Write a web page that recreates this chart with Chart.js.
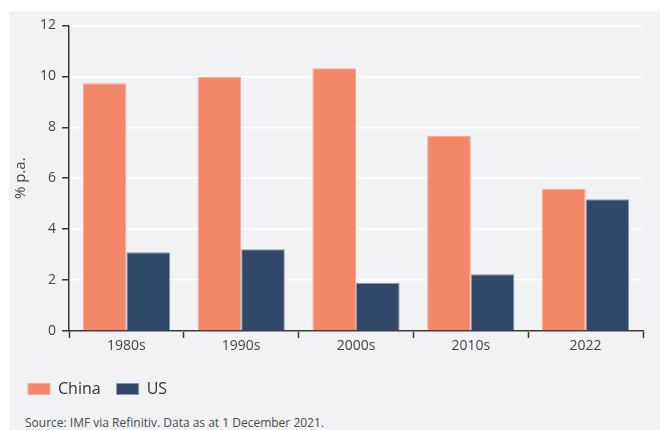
<!DOCTYPE html>
<html>
<head>
<meta charset="utf-8">
<script src="https://cdn.jsdelivr.net/npm/chart.js@4.4.1/dist/chart.umd.min.js"></script>
<style>
  html, body { margin: 0; padding: 0; background: #fff; }
  body { width: 660px; height: 430px; position: relative; overflow: hidden; font-family: "Open Sans", sans-serif; }
  #panel { position: absolute; left: 9px; top: 11px; width: 651px; height: 419px; background: #f1f2f4; }
  #chart-wrap { position: absolute; left: 0; top: 0; width: 651px; height: 396px; }
  #source { position: absolute; left: 16px; top: 403px; font-size: 12px; color: #4a4a4a; white-space: nowrap; }
</style>
</head>
<body>
<div id="panel">
  <div id="chart-wrap"><canvas id="growth-chart"></canvas></div>
  <div id="source">Source: IMF via Refinitiv. Data as at 1 December 2021.</div>
</div>
<script>
// Crescimento real do PIB, média anual por período (% a.a.)
const periods = ['1980s', '1990s', '2000s', '2010s', '2022'];
const chinaGrowth = [9.73, 9.97, 10.32, 7.66, 5.59];
const usGrowth = [3.09, 3.21, 1.88, 2.23, 5.17];
const yTicks = [0, 2, 4, 6, 8, 10, 12];

const axisColor = '#3a3a3a';
const tickFont = { family: '"Open Sans", sans-serif', size: 14 };

const growthChart = new Chart(document.getElementById('growth-chart'), {
  type: 'bar',
  data: {
    labels: periods,
    datasets: [
      {
        label: 'China',
        data: chinaGrowth,
        backgroundColor: '#f58769',
        borderColor: '#f7ab96',
        borderWidth: 1
      },
      {
        label: 'US',
        data: usGrowth,
        backgroundColor: '#30496a',
        borderColor: '#8797ad',
        borderWidth: 1
      }
    ]
  },
  options: {
    responsive: true,
    maintainAspectRatio: false,
    animation: false,
    layout: { padding: { left: 3, right: 17, top: 2, bottom: 0 } },
    datasets: {
      bar: { barPercentage: 1, categoryPercentage: 0.76 }
    },
    plugins: {
      legend: {
        position: 'bottom',
        align: 'start',
        labels: {
          boxWidth: 22,
          boxHeight: 11,
          padding: 16,
          color: '#333',
          font: { family: '"Open Sans", sans-serif', size: 16 }
        }
      },
      tooltip: { enabled: false }
    },
    scales: {
      x: {
        offset: true,
        grid: {
          display: true,
          drawOnChartArea: false,
          offset: true,
          tickLength: 7,
          tickColor: axisColor,
          tickWidth: 1.5
        },
        border: { color: axisColor, width: 1.5 },
        ticks: { color: '#444', font: tickFont, padding: 0 },
        afterFit: function(scale) { scale.height = 34; }
      },
      y: {
        min: 0,
        max: 12,
        afterBuildTicks: function(scale) {
          scale.ticks = yTicks.map(v => ({ value: v }));
        },
        grid: {
          color: '#ffffff',
          lineWidth: 1.5,
          tickLength: 7,
          tickColor: axisColor,
          tickWidth: 1.5
        },
        border: { color: axisColor, width: 1.5 },
        ticks: { color: '#444', font: tickFont, padding: 6 },
        title: {
          display: true,
          text: '% p.a.',
          color: '#444',
          font: { family: '"Open Sans", sans-serif', size: 15 },
          padding: { top: 0, bottom: 0 }
        },
        afterFit: function(scale) { scale.width = 57; }
      }
    }
  }
});
</script>
</body>
</html>
